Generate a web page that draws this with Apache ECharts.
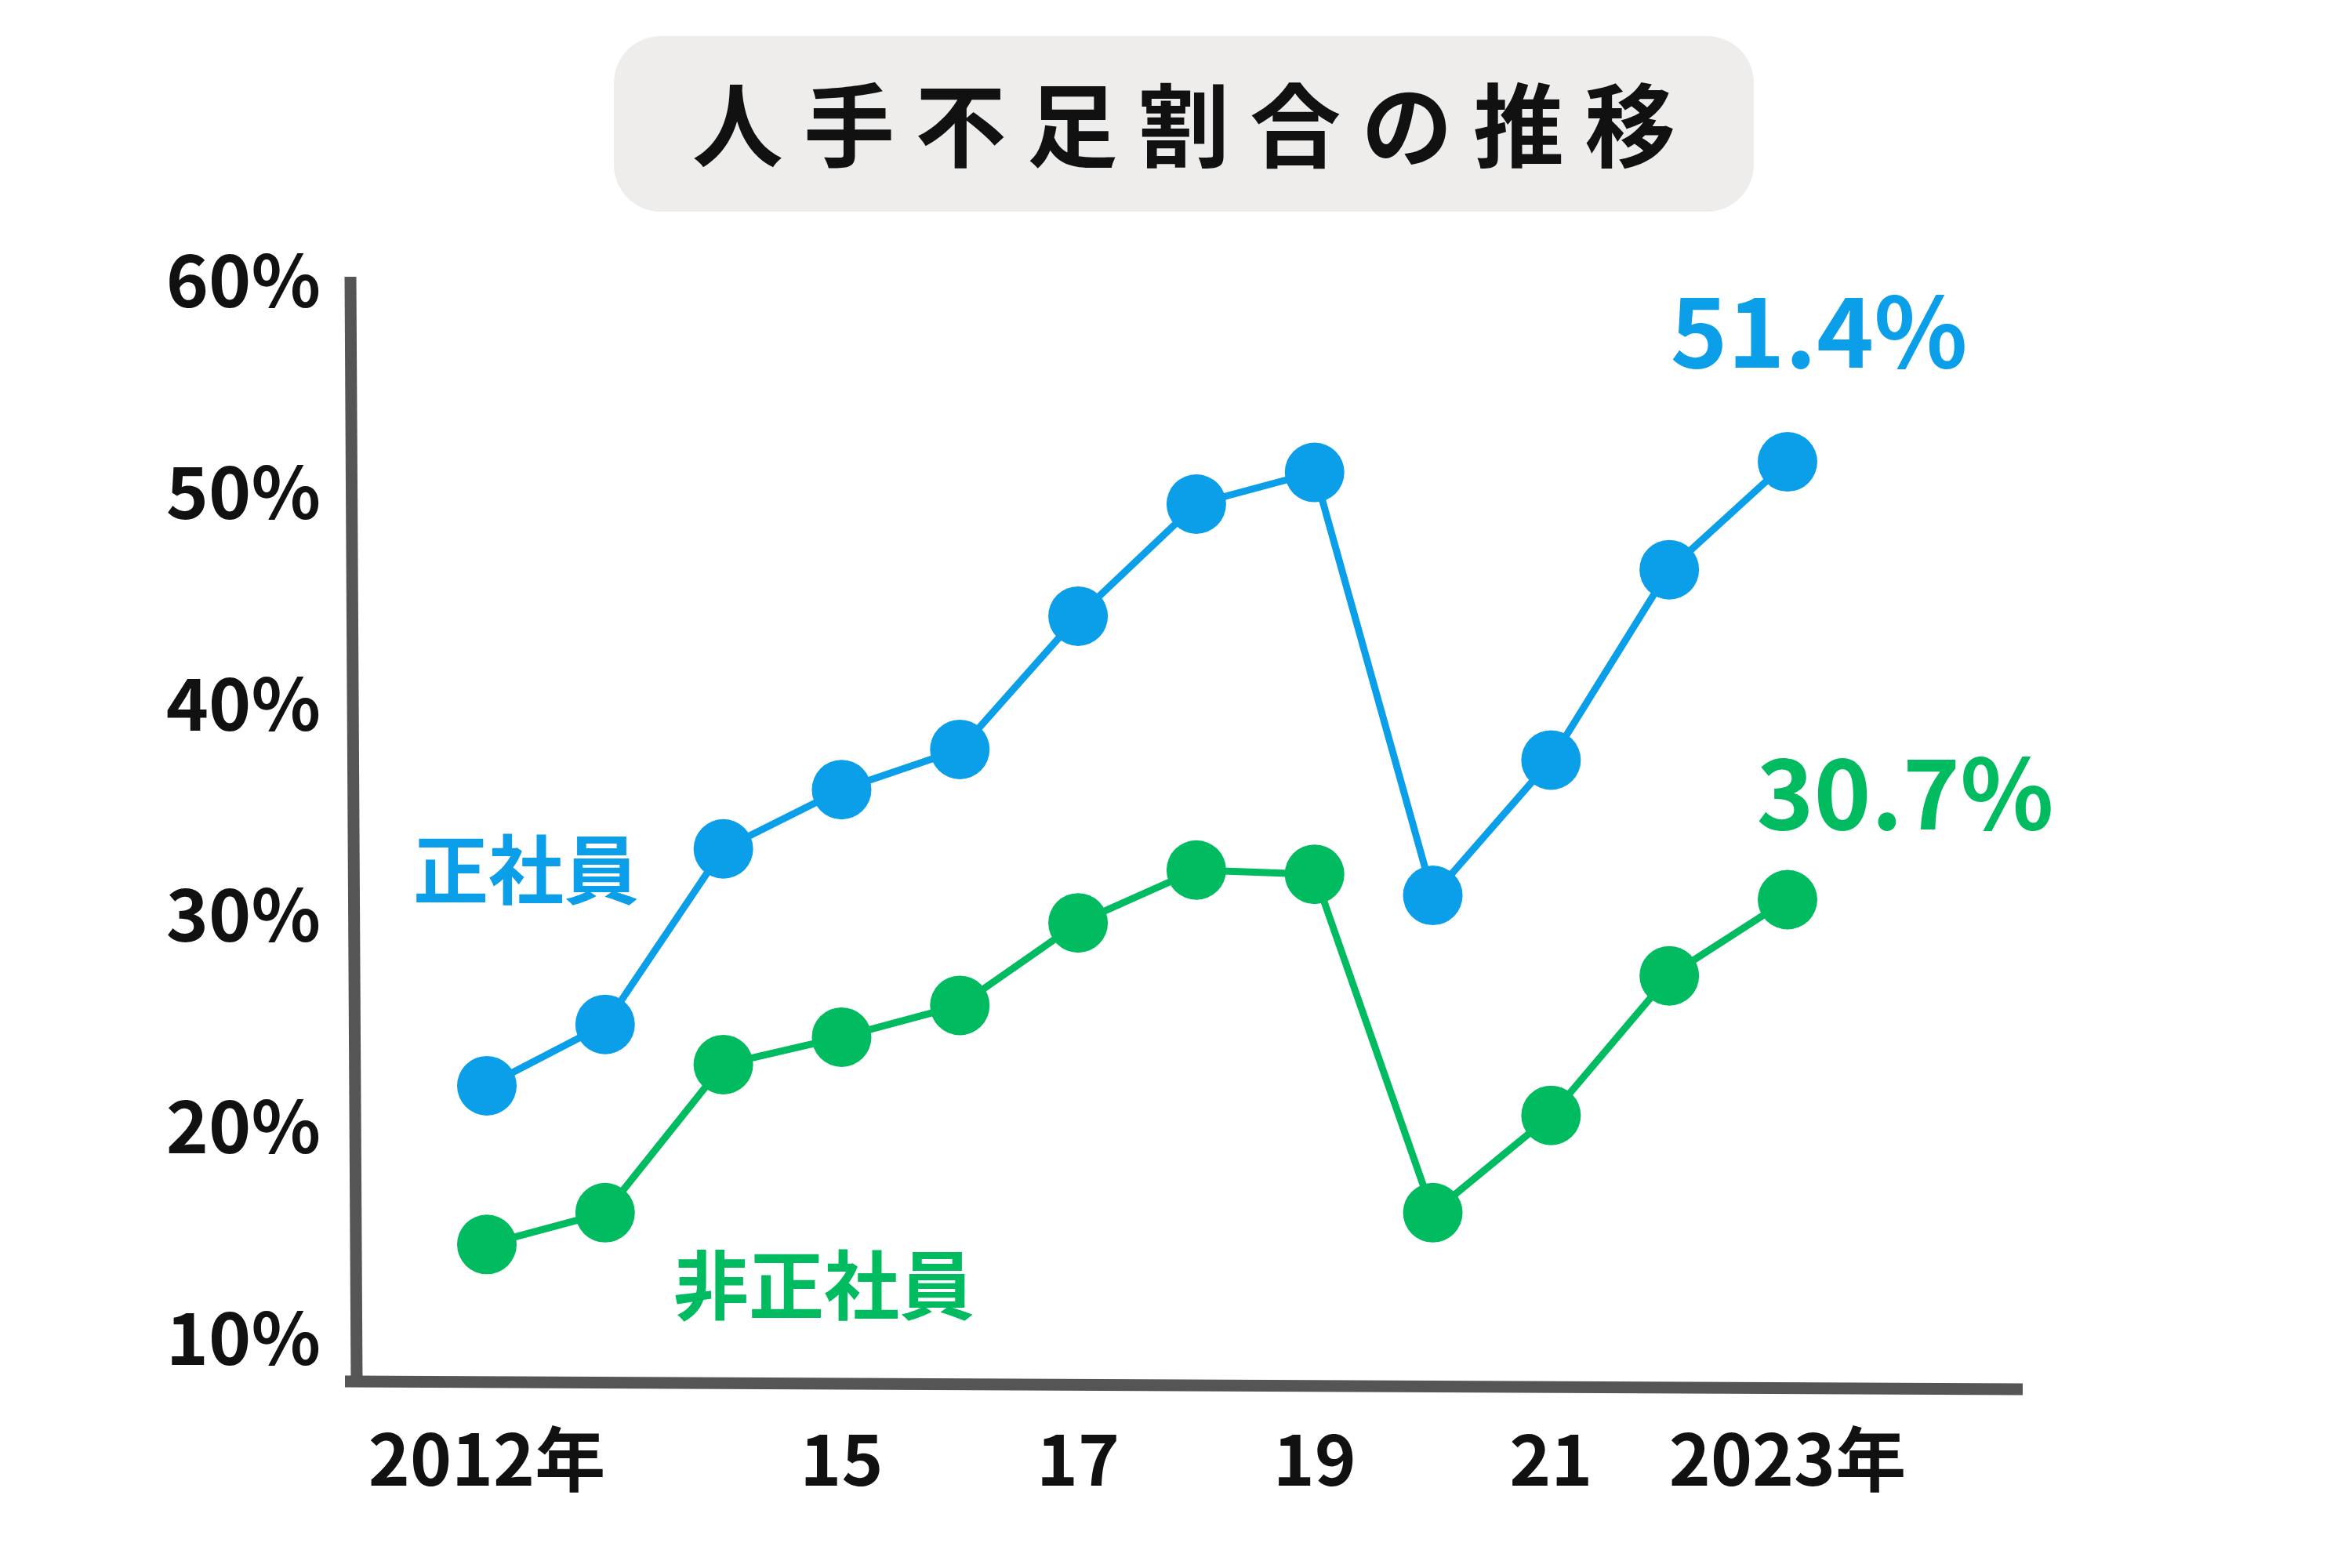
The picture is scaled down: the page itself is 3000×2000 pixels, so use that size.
<!DOCTYPE html>
<html>
<head>
<meta charset="utf-8">
<script src="https://cdn.jsdelivr.net/npm/echarts@6/dist/echarts.min.js"></script>
<style>html,body{margin:0;background:#fff}#chart{width:3000px;height:2000px}</style>
</head>
<body>
<div id="chart"></div>
<script>
const years = ['2012', '2013', '2014', '2015', '2016', '2017', '2018', '2019', '2020', '2021', '2022', '2023']
const yearLabels = {'2012': '2012年', '2015': '15', '2017': '17', '2019': '19', '2021': '21', '2023': '2023年'}
const regular = [21.9, 24.8, 33.1, 35.9, 37.8, 44.1, 49.4, 50.9, 30.9, 37.3, 46.3, 51.4]
const nonRegular = [14.4, 15.9, 22.9, 24.2, 25.7, 29.6, 32.1, 31.9, 15.9, 20.5, 27.1, 30.7]

const font = '"Noto Sans CJK JP", "Noto Sans", sans-serif'
const blue = '#0a9fe8'
const green = '#00bb5f'

let chart = echarts.init(document.getElementById('chart'))

function lastLabel(color, offset) {
  return {
    show: true,
    position: 'top',
    offset: offset,
    formatter: '{c}%',
    color: color,
    fontSize: 124,
    fontWeight: 'bold',
    fontFamily: font
  }
}

function makeSeries(data, color, offset) {
  return {
    type: 'line',
    data: data.map((v, i) => i === data.length - 1 ? { value: v, label: lastLabel(color, offset) } : v),
    symbol: 'circle',
    symbolSize: 76,
    lineStyle: { color: color, width: 9 },
    itemStyle: { color: color },
    z: 5
  }
}

let options = {
  animation: false,
  grid: { left: 621, right: 720, top: 357, bottom: 294 },
  xAxis: {
    type: 'category',
    data: years,
    boundaryGap: false,
    axisLine: { show: false },
    axisTick: { show: false },
    axisLabel: {
      interval: 0,
      margin: 110,
      formatter: v => yearLabels[v] || '',
      color: '#111',
      fontSize: 90,
      fontWeight: 'bold',
      fontFamily: font
    }
  },
  yAxis: {
    type: 'value',
    min: 10,
    max: 60,
    interval: 10,
    splitLine: { show: false },
    axisLine: { show: false },
    axisTick: { show: false },
    axisLabel: {
      margin: 212,
      formatter: '{value}%',
      color: '#111',
      fontSize: 92,
      fontWeight: 'bold',
      fontFamily: font
    }
  },
  graphic: [
    { type: 'rect', shape: { x: 783, y: 46, width: 1454, height: 224, r: 60 }, style: { fill: '#eeedeb' } },
    { type: 'text', x: 1510, y: 160, style: { text: '人 手 不 足 割 合 の 推 移', fill: '#111', fontSize: 116, fontWeight: 'bold', fontFamily: font, align: 'center', verticalAlign: 'middle' } },
    { type: 'line', shape: { x1: 447, y1: 353, x2: 455, y2: 1764 }, style: { stroke: '#555', lineWidth: 15 } },
    { type: 'line', shape: { x1: 440, y1: 1762, x2: 2580, y2: 1772 }, style: { stroke: '#555', lineWidth: 15 } },
    { type: 'text', x: 671, y: 1109, style: { text: '正社員', fill: blue, fontSize: 96, fontWeight: 'bold', fontFamily: font, align: 'center', verticalAlign: 'middle' } },
    { type: 'text', x: 1051, y: 1639, style: { text: '非正社員', fill: green, fontSize: 96, fontWeight: 'bold', fontFamily: font, align: 'center', verticalAlign: 'middle' } }
  ],
  series: [
    makeSeries(regular, blue, [40, -62]),
    makeSeries(nonRegular, green, [150, -32])
  ]
}
chart.setOption(options)
</script>
</body>
</html>
